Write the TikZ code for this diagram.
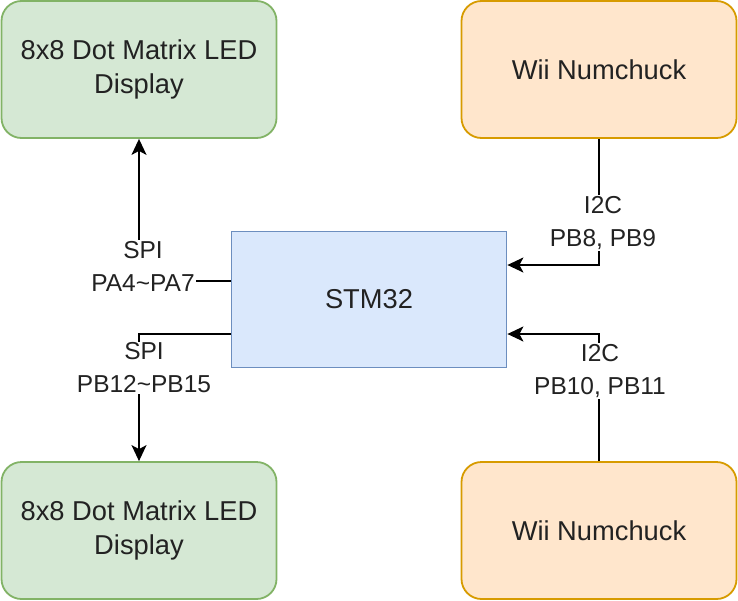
\documentclass[tikz,border=0pt]{standalone}
\usepackage{fontspec}
\setmainfont{Liberation Sans}
\usetikzlibrary{arrows.meta}
\definecolor{gfill}{HTML}{D5E8D4}
\definecolor{gline}{HTML}{82B366}
\definecolor{ofill}{HTML}{FFE6CC}
\definecolor{oline}{HTML}{D79B00}
\definecolor{bfill}{HTML}{DAE8FC}
\definecolor{bline}{HTML}{6C8EBF}
\definecolor{txt}{HTML}{222222}
\tikzset{
  box/.style={draw, line width=1.8pt, rounded corners=20pt, minimum width=275pt, minimum height=137pt,
    align=center, text=txt, font=\fontsize{27.3}{34}\selectfont, inner sep=0pt},
  green/.style={box, fill=gfill, draw=gline},
  orange/.style={box, fill=ofill, draw=oline},
  mcu/.style={draw=bline, fill=bfill, line width=1.8pt, minimum width=275pt, minimum height=136pt,
    font=\fontsize{27.3}{34}\selectfont, text=txt, inner sep=0pt},
  conn/.style={draw=black, line width=1.8pt, -{Stealth[length=16pt,width=15pt,inset=4pt]}},
  lbl/.style={fill=white, align=center, text=txt, font=\fontsize{24.5}{33}\selectfont, inner sep=1pt}
}
\begin{document}
\begin{tikzpicture}[x=1pt,y=-1pt]
\useasboundingbox (0,0) rectangle (738,600);
\node[green] (tl) at (139,69.5) {8x8 Dot Matrix LED\\Display};
\node[green] (bl) at (139,530.5) {8x8 Dot Matrix LED\\Display};
\node[orange] (tr) at (599,69.5) {Wii Numchuck};
\node[orange] (br) at (599,530.5) {Wii Numchuck};
\node[mcu] (m) at (369,299.5) {STM32};
% connectors
\coordinate (c1) at (139,281);
\coordinate (c2) at (139,334);
\coordinate (c3) at (599,265);
\coordinate (c4) at (599,334);
\draw[conn] (m.west |- c1) -- (c1) -- (tl.south);
\draw[conn] (m.west |- c2) -- (c2) -- (bl.north);
\draw[conn] (tr.south) -- (c3) -- (m.east |- c3);
\draw[conn] (br.north) -- (c4) -- (m.east |- c4);
% labels
\node[lbl] (l1) at (143,266) {SPI\\PA4\textasciitilde PA7};
\node[lbl] (l2) at (144,368) {SPI\\PB12\textasciitilde PB15};
\node[lbl] (l3) at (603,223) {I2C\\PB8, PB9};
\node[lbl] (l4) at (600,371) {I2C\\PB10, PB11};
\end{tikzpicture}
\end{document}
